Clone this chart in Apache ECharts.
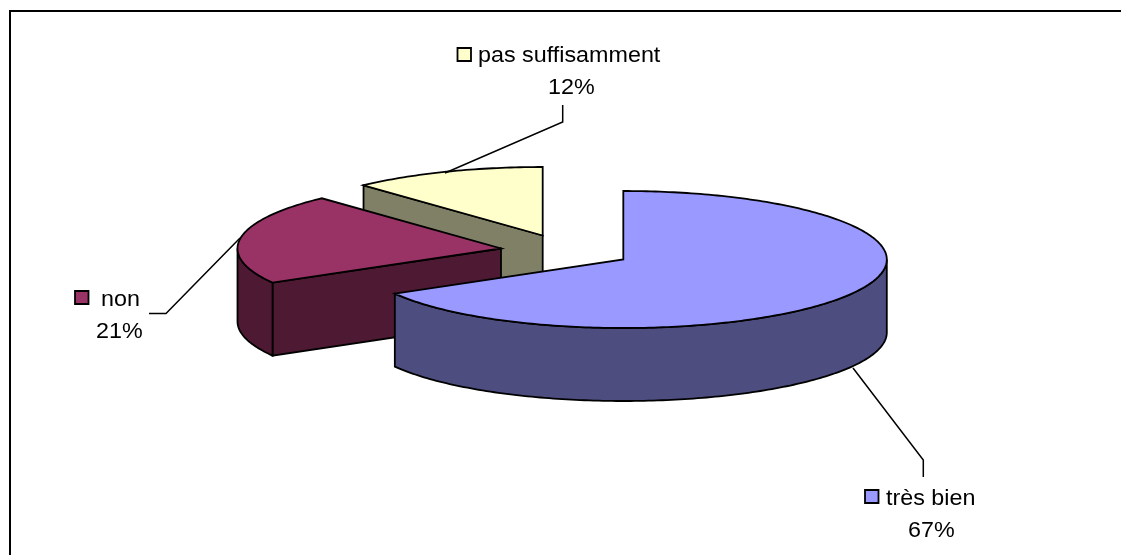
<!DOCTYPE html>
<html>
<head>
<meta charset="utf-8">
<style>html,body{margin:0;padding:0;background:#fff}#c{width:1121px;height:555px}</style>
<script src="https://cdn.jsdelivr.net/npm/echarts@6/dist/echarts.min.js"></script>
</head>
<body>
<div id="c"></div>
<script>
const categories = ['très bien', 'non', 'pas suffisamment'];
const shares = [66.7, 21.4, 11.9];
const topColors = ['#9999FF', '#993366', '#FFFFCC'];
const sideColors = ['#4D4D80', '#4D1933', '#808066'];

const RX = 263.5, RY = 68.5, DEPTH = 73;
const apexes = [[623.3, 259.5], [501, 248.5], [542.7, 235.5]];
const leaders = [
  [[853, 368], [923.3, 460], [923.3, 477]],
  [[240, 238], [166, 313.5], [149, 313.5]],
  [[445, 173], [562.7, 122], [562.7, 105]]
];
const labelBoxes = [
  { key: [865, 490], name: [886, 505], pct: [908, 537] },
  { key: [75, 291], name: [101, 306], pct: [96, 338] },
  { key: [457.5, 48], name: [478, 62], pct: [548, 94] }
];

const total = shares.reduce((a, b) => a + b, 0);

function pt(apex, deg, dy) {
  const r = deg * Math.PI / 180;
  return [apex[0] + Math.sin(r) * RX, apex[1] - Math.cos(r) * RY + (dy || 0)];
}
function arc(apex, a0, a1, dy) {
  const pts = [];
  const n = Math.max(2, Math.ceil(Math.abs(a1 - a0)));
  for (let i = 0; i <= n; i++) pts.push(pt(apex, a0 + (a1 - a0) * i / n, dy));
  return pts;
}
const EDGE = { stroke: '#000', lineWidth: 1.8, lineJoin: 'miter' };

function renderSlice(params, api) {
  const i = params.dataIndex;
  const before = shares.slice(0, i).reduce((a, b) => a + b, 0);
  const a0 = before / total * 360;
  const a1 = (before + api.value(0)) / total * 360;
  const apex = apexes[i];
  const base = (3 - i) * 10;
  const kids = [];
  const poly = (points, fill, z) => kids.push({
    type: 'polygon', shape: { points }, z2: base + z,
    style: Object.assign({ fill }, EDGE)
  });
  const radialWall = deg => {
    const p = pt(apex, deg);
    return [[apex[0], apex[1]], p, [p[0], p[1] + DEPTH], [apex[0], apex[1] + DEPTH]];
  };
  if (Math.sin(a1 * Math.PI / 180) > 1e-6) poly(radialWall(a1), sideColors[i], 1);
  if (Math.sin(a0 * Math.PI / 180) < -1e-6) poly(radialWall(a0), sideColors[i], 2);
  const f0 = Math.max(a0, 90), f1 = Math.min(a1, 270);
  if (f1 > f0) {
    poly(arc(apex, f0, f1, 0).concat(arc(apex, f1, f0, DEPTH)), sideColors[i], 3);
  }
  poly([[apex[0], apex[1]]].concat(arc(apex, a0, a1, 0)), topColors[i], 4);

  kids.push({
    type: 'polyline', shape: { points: leaders[i] }, z2: 100,
    style: { fill: 'none', stroke: '#000', lineWidth: 1.5 }
  });
  const lb = labelBoxes[i];
  kids.push({
    type: 'rect', shape: { x: lb.key[0], y: lb.key[1], width: 13.5, height: 13 }, z2: 100,
    style: { fill: topColors[i], stroke: '#000', lineWidth: 1.8 }
  });
  const txt = (s, p) => kids.push({
    type: 'text', z2: 100, x: p[0], y: p[1], scaleX: 1.06,
    style: {
      text: s, fill: '#000', textAlign: 'left', textVerticalAlign: 'bottom',
      font: '22px "Liberation Sans", Arial, sans-serif'
    }
  });
  txt(categories[i], [lb.name[0], lb.name[1] + 5]);
  txt(Math.round(api.value(0)) + '%', [lb.pct[0], lb.pct[1] + 5]);
  return { type: 'group', children: kids };
}

const chart = echarts.init(document.getElementById('c'), null, { renderer: 'canvas' });
chart.setOption({
  animation: false,
  backgroundColor: '#fff',
  graphic: [{
    type: 'polyline', silent: true, z: -1,
    shape: { points: [[10, 560], [10, 11], [1130, 11]] },
    style: { fill: 'none', stroke: '#000', lineWidth: 2 }
  }],
  series: [{
    type: 'custom',
    coordinateSystem: 'none',
    silent: true,
    data: shares.map(v => [v]),
    renderItem: renderSlice
  }]
});
</script>
</body>
</html>
